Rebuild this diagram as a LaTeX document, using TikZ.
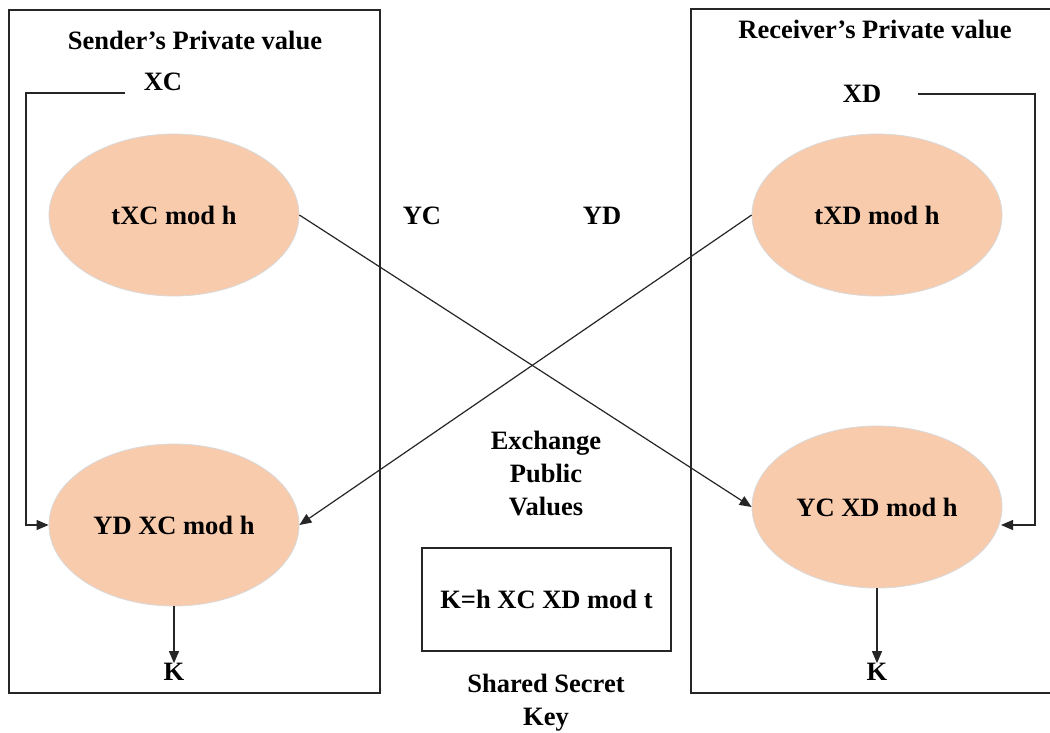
\documentclass[tikz,border=0pt]{standalone}
\usepackage{fontspec}
\setmainfont{Liberation Serif}
\usetikzlibrary{shapes.geometric,arrows.meta}
\definecolor{peach}{HTML}{F8CBAD}
\tikzset{
  lbl/.style={font=\fontsize{26.5}{33}\selectfont\bfseries, inner sep=0pt, align=center},
  oval/.style={ellipse, fill=peach, draw=black!15, line width=0.8pt, inner sep=0pt,
               minimum width=250pt, minimum height=162pt, font=\fontsize{26.5}{33}\selectfont\bfseries},
  frame/.style={draw=black!85, line width=1.4pt},
  conn/.style={draw=black!85, line width=1.2pt},
  arr/.style={conn, -{Triangle[length=12pt,width=10pt]}}
}
\begin{document}
\begin{tikzpicture}[x=1pt,y=-1pt]
\clip (0,0) rectangle (1050,732);
\fill[white] (0,0) rectangle (1050,732);
% frames
\draw[frame] (9,10) rectangle (380,693);
\draw[frame] (691,9) rectangle (1070,693);
% titles
\node[lbl] (tl) at (195,40) {Sender’s Private value};
\node[lbl] (tr) at (875,29) {Receiver’s Private value};
% ellipses
\node[oval] (a) at (174,215) {tXC mod h};
\node[oval] (b) at (174,525) {YD XC mod h};
\node[oval] (c) at (877,215) {tXD mod h};
\node[oval] (d) at (877,507) {YC XD mod h};
% private labels
\node[lbl] (xc) at (163,82) {XC};
\node[lbl] (xd) at (862,94) {XD};
\coordinate (xcl) at (125,93);
\coordinate (xcc) at (26,93);
\coordinate (xce) at (26,525);
\coordinate (xdl) at (918,94);
\coordinate (xdc) at (1035,94);
\coordinate (xde) at (1035,525);
\draw[arr] (xcl) -- (xcc) -- (xce) -- (b.west |- xce);
\draw[arr] (xdl) -- (xdc) -- (xde) -- (1001,525);
% public values
\node[lbl] (yc) at (422,216) {YC};
\node[lbl] (yd) at (602,216) {YD};
\draw[arr] (a.east) -- (d.west);
\draw[arr] (c.west) -- (b.east);
% K outputs
\node[lbl] (k1) at (174,672) {K};
\node[lbl] (k2) at (877,672) {K};
\draw[arr] (b.south) -- (b.south |- k1.north);
\draw[arr] (d.south) -- (d.south |- k2.north);
% centre
\node[lbl] (ex) at (546,473) {Exchange\\Public\\Values};
\node[lbl, draw=black!85, line width=1.4pt, minimum width=249pt, minimum height=103pt] (key) at (546.5,599.5) {K=h XC XD mod t};
\node[lbl] (ss) at (546,703) {Shared Secret\\Key};
\end{tikzpicture}
\end{document}
